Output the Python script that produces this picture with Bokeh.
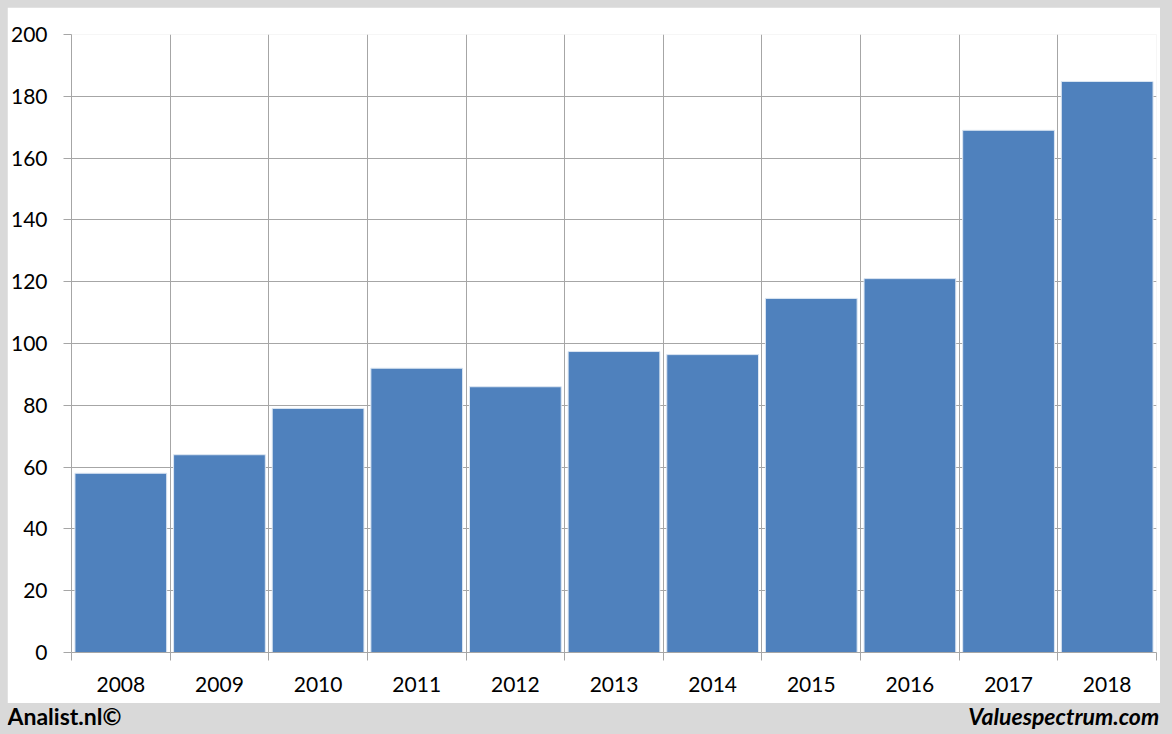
from bokeh.plotting import figure
from bokeh.models import Range1d, FixedTicker, ColumnDataSource
from bokeh.core.properties import value
from bokeh.embed import file_html
from bokeh.resources import INLINE

years = ["2008", "2009", "2010", "2011", "2012", "2013", "2014", "2015", "2016", "2017", "2018"]
values = [58, 64, 79, 92, 86, 97.4, 96.4, 114.6, 121, 169, 184.8]
y_ticks = [0, 20, 40, 60, 80, 100, 120, 140, 160, 180, 200]

FONT = "Lato"
GRID = "#a6a6a6"
BAR = "#4f81bd"
BG = "#d9d9d9"

n = len(years)
centers = [i + 0.5 for i in range(n)]
bounds = [float(i) for i in range(n + 1)]

p = figure(width=1153, height=696, output_backend="svg", toolbar_location=None,
           x_range=Range1d(0, n), y_range=Range1d(0, 200),
           min_border_left=62, min_border_right=4, min_border_top=27, min_border_bottom=51)
p.background_fill_color = "white"
p.border_fill_color = "white"
p.outline_line_color = None

src = ColumnDataSource(dict(x=centers, top=values, year=years))
p.vbar(x="x", top="top", bottom=0, width=0.93, source=src,
       fill_color=BAR, line_color="#dce6f2", line_width=1)

# x axis: labels at centres, tick marks at boundaries
p.xaxis.ticker = FixedTicker(ticks=centers, minor_ticks=bounds)
p.xaxis.major_label_overrides = {c: y for c, y in zip(centers, years)}
p.xaxis.major_tick_out = 0
p.xaxis.major_tick_in = 0
p.xaxis.minor_tick_out = 8
p.xaxis.minor_tick_in = 0
p.xaxis.minor_tick_line_color = GRID
p.xaxis.axis_line_color = GRID
p.xaxis.major_label_standoff = 16
p.xaxis.major_label_text_font = FONT
p.xaxis.major_label_text_font_size = "21px"
p.xaxis.major_label_text_color = "black"

p.yaxis.ticker = FixedTicker(ticks=y_ticks, minor_ticks=[])
p.yaxis.major_tick_out = 8
p.yaxis.major_tick_in = 0
p.yaxis.major_tick_line_color = GRID
p.yaxis.minor_tick_line_color = None
p.yaxis.axis_line_color = GRID
p.yaxis.major_label_standoff = 16
p.yaxis.major_label_text_font = FONT
p.yaxis.major_label_text_font_size = "21px"
p.yaxis.major_label_text_color = "black"

p.xgrid.ticker = FixedTicker(ticks=bounds)
p.xgrid.grid_line_color = GRID
p.ygrid.grid_line_color = GRID
p.xgrid.level = "underlay"
p.ygrid.level = "underlay"

# footer (separate root, so its frame is not aligned with the chart's)
f = figure(width=1158, height=30, output_backend="svg", toolbar_location=None,
           x_range=Range1d(0, 1), y_range=Range1d(0, 1),
           x_axis_location=None, y_axis_location=None,
           min_border=0, min_border_left=0, min_border_right=0,
           min_border_top=0, min_border_bottom=0)
f.grid.visible = False
f.outline_line_color = None
f.background_fill_color = BG
f.border_fill_color = BG
f.text(x=[0.0], y=[0.6], text=["Analist.nl©"], text_font=value(FONT),
       text_font_size="23px", text_font_style="bold", text_color="black",
       text_align="left", text_baseline="alphabetic")
f.text(x=[0.9945], y=[0.6], text=["Valuespectrum.com"], text_font=value(FONT),
       text_font_size="23px", text_font_style="bold italic", text_color="black",
       text_align="right", text_baseline="alphabetic")

html = file_html([p, f], INLINE)
css = ("<style>html,body{margin:0;background:%s;}"
       "body{padding:7px 0 0 7px;display:flex;flex-direction:column;"
       "align-items:flex-start;gap:0;font-size:0;line-height:0;}</style>" % BG)
html = html.replace("</head>", css + "</head>", 1)
open("out.html", "w").write(html)
